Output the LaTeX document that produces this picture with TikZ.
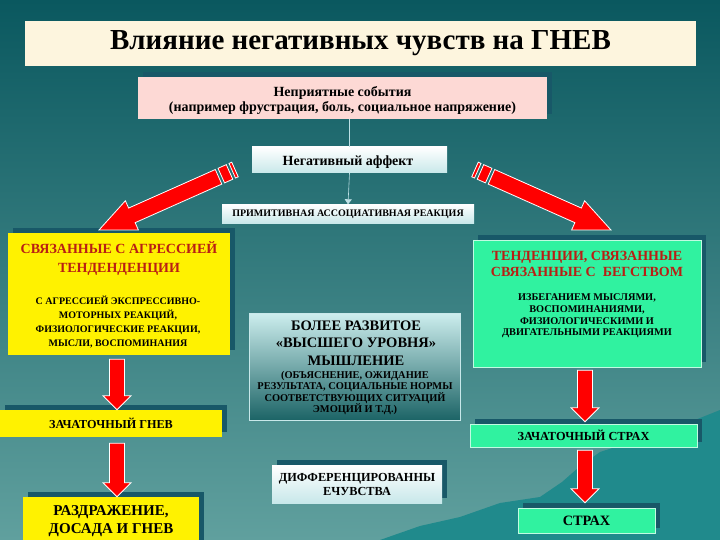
\documentclass[tikz,border=0pt]{standalone}
\usepackage{fontspec}
\setmainfont{Liberation Serif}
\usetikzlibrary{calc,shadows,arrows.meta}

\definecolor{bgtop}{RGB}{10,88,95}
\definecolor{bgbottom}{RGB}{96,160,158}
\definecolor{hillteal}{RGB}{32,138,140}
\definecolor{titlecream}{RGB}{253,245,222}
\definecolor{eventpink}{RGB}{253,217,213}
\definecolor{shadowteal}{RGB}{24,88,104}
\definecolor{lightcyan}{RGB}{200,232,234}
\definecolor{thinktop}{RGB}{205,238,238}
\definecolor{thinkbottom}{RGB}{28,100,102}
\definecolor{mint}{RGB}{48,242,160}
\definecolor{darkred}{RGB}{185,30,20}
\definecolor{linecyan}{RGB}{190,225,230}

% fat red arrow: shaft half width, head half width, head length, from, to
\newcommand{\fatarrow}[5]{%
  \coordinate (fa-hb) at ($(#5)!#3!(#4)$);
  \filldraw[fatarrow] ($(#4)!#1!90:(#5)$) -- ($(fa-hb)!#1!-90:(#4)$) -- ($(fa-hb)!#2!-90:(#4)$) -- (#5)
    -- ($(fa-hb)!#2!90:(#4)$) -- ($(fa-hb)!#1!90:(#4)$) -- ($(#4)!#1!-90:(#5)$) -- cycle;
}
% one stripe at the tail: half width, start, end, from, to
\newcommand{\arrowstripe}[5]{%
  \coordinate (st-a) at ($(#4)!#2!(#5)$);
  \coordinate (st-b) at ($(#4)!#3!(#5)$);
  \filldraw[fatarrow] ($(st-a)!#1!90:(#5)$) -- ($(st-b)!#1!90:(#5)$) -- ($(st-b)!#1!-90:(#5)$) -- ($(st-a)!#1!-90:(#5)$) -- cycle;
}

\begin{document}
\begin{tikzpicture}[x=1pt,y=-1pt,
    boxshadow/.style={general shadow={fill=shadowteal, shadow xshift=5pt, shadow yshift=5pt}},
    plainbox/.style={inner sep=0pt, align=center, font=\bfseries},
    titlebox/.style={plainbox, fill=titlecream, minimum width=671pt, minimum height=45pt, font=\bfseries\fontsize{29}{32}\selectfont},
    eventbox/.style={plainbox, boxshadow, fill=eventpink},
    lightbox/.style={plainbox, top color=white, bottom color=lightcyan},
    thinkbox/.style={plainbox, top color=thinktop, bottom color=thinkbottom, draw=lightcyan, line width=0.6pt},
    yellowbox/.style={plainbox, boxshadow, fill=yellow},
    greenbox/.style={plainbox, boxshadow, fill=mint, draw=white!70!mint, line width=0.6pt},
    redtext/.style={inner sep=0pt, align=center, text=darkred},
    blacktext/.style={inner sep=0pt, align=center},
    thinline/.style={draw=linecyan, line width=0.6pt},
    fatarrow/.style={fill=red, draw=white, line width=0.8pt, line join=miter}]
  \useasboundingbox (0,0) rectangle (720,540);

  % background
  \shade[top color=bgtop, bottom color=bgbottom] (0,0) rectangle (720,540);
  \fill[hillteal] (380,540) -- (420,526) -- (460,517) -- (500,503) -- (540,497) -- (562,482) -- (578,468)
    -- (600,452) -- (625,444) -- (650,432) -- (690,422) -- (720,410) -- (720,540) -- cycle;

  % title
  \node[titlebox] at (360.5,43.5) (title) {Влияние негативных чувств на ГНЕВ};

  % top of the chain
  \node[eventbox, minimum width=409pt, minimum height=42pt] at (342.5,98) (events) {};
  \node[blacktext, font=\bfseries\fontsize{14}{15}\selectfont] at (342.5,101) (events-text) {Неприятные события\\(например фрустрация, боль, социальное напряжение)};
  \node[lightbox, minimum width=195pt, minimum height=26pt] at (349.5,160) (affect) {};
  \node[blacktext, font=\bfseries\fontsize{14}{15}\selectfont] at (348,162.5) (affect-text) {Негативный аффект};
  \node[lightbox, minimum width=252pt, minimum height=19pt, font=\bfseries\fontsize{10}{11}\selectfont] at (348,214) (primitive) {ПРИМИТИВНАЯ АССОЦИАТИВНАЯ РЕАКЦИЯ};
  \draw[thinline] (events.south -| affect.north) -- (affect.north);
  \draw[thinline, -{Triangle[width=7pt,length=5pt]}] (affect.south) -- (primitive.north);

  % aggression side
  \node[yellowbox, minimum width=222pt, minimum height=122pt] at (119,294) (aggr) {};
  \node[redtext, font=\bfseries\fontsize{14}{19}\selectfont] at (119,259) (aggr-head) {СВЯЗАННЫЕ С АГРЕССИЕЙ\\ТЕНДЕНДЕНЦИИ};
  \node[blacktext, font=\bfseries\fontsize{10}{14}\selectfont] at (118,322) (aggr-text) {С АГРЕССИЕЙ ЭКСПРЕССИВНО-\\МОТОРНЫХ РЕАКЦИЙ,\\ФИЗИОЛОГИЧЕСКИЕ РЕАКЦИИ,\\МЫСЛИ, ВОСПОМИНАНИЯ};
  \node[yellowbox, minimum width=222pt, minimum height=27pt, font=\bfseries\fontsize{12.2}{13}\selectfont] at (111,423.5) (zg) {ЗАЧАТОЧНЫЙ ГНЕВ};
  \node[yellowbox, minimum width=176pt, minimum height=48pt, font=\bfseries\fontsize{15}{18}\selectfont] at (111,521) (rage) {РАЗДРАЖЕНИЕ,\\ДОСАДА И ГНЕВ};

  % thinking in the middle
  \node[thinkbox, minimum width=211pt, minimum height=107pt] at (354.5,366.5) (think) {};
  \node[blacktext, font=\bfseries\fontsize{14.5}{17.5}\selectfont] at (356,343) (think-head) {БОЛЕЕ РАЗВИТОЕ\\«ВЫСШЕГО УРОВНЯ»\\МЫШЛЕНИЕ};
  \node[blacktext, font=\bfseries\fontsize{10.4}{11.6}\selectfont] at (355,393) (think-text) {(ОБЪЯСНЕНИЕ, ОЖИДАНИЕ\\РЕЗУЛЬТАТА, СОЦИАЛЬНЫЕ НОРМЫ\\СООТВЕТСТВУЮЩИХ СИТУАЦИЙ\\ЭМОЦИЙ И Т.Д.)};
  \node[lightbox, boxshadow, minimum width=170pt, minimum height=38pt, font=\bfseries\fontsize{12.3}{14}\selectfont] at (357,484) (diff) {ДИФФЕРЕНЦИРОВАННЫ\\ЕЧУВСТВА};

  % flight side
  \node[greenbox, minimum width=228pt, minimum height=127pt] at (587,303.5) (flight) {};
  \node[redtext, font=\bfseries\fontsize{14}{16}\selectfont] at (587,263.5) (flight-head) {ТЕНДЕНЦИИ, СВЯЗАННЫЕ\\СВЯЗАННЫЕ С~~БЕГСТВОМ};
  \node[blacktext, font=\bfseries\fontsize{10.3}{11.7}\selectfont] at (587,316) (flight-text) {ИЗБЕГАНИЕМ МЫСЛЯМИ,\\ВОСПОМИНАНИЯМИ,\\ФИЗИОЛОГИЧЕСКИМИ И\\ДВИГАТЕЛЬНЫМИ РЕАКЦИЯМИ};
  \node[greenbox, minimum width=227pt, minimum height=23pt, font=\bfseries\fontsize{12.3}{13}\selectfont] at (583.5,435.5) (zs) {ЗАЧАТОЧНЫЙ СТРАХ};
  \node[greenbox, minimum width=137pt, minimum height=25pt, font=\bfseries\fontsize{14.3}{15}\selectfont] at (586.5,520.5) (fear) {СТРАХ};

  % big arrows from the affect
  \coordinate (la-tail) at (235,169.5);
  \coordinate (la-tip) at (99,230);
  \coordinate (la-start) at ($(la-tail)!18pt!(la-tip)$);
  \arrowstripe{8pt}{0pt}{3pt}{la-tail}{la-tip}
  \arrowstripe{8pt}{6pt}{15pt}{la-tail}{la-tip}
  \fatarrow{8pt}{16pt}{36pt}{la-start}{la-tip}

  \coordinate (ra-tail) at (475,169.5);
  \coordinate (ra-tip) at (611,230);
  \coordinate (ra-start) at ($(ra-tail)!18pt!(ra-tip)$);
  \arrowstripe{8pt}{0pt}{3pt}{ra-tail}{ra-tip}
  \arrowstripe{8pt}{6pt}{15pt}{ra-tail}{ra-tip}
  \fatarrow{8pt}{16pt}{36pt}{ra-start}{ra-tip}

  % down arrows
  \coordinate (a1-from) at ($(aggr.south)+(-2,4)$);
  \coordinate (a1-to) at (a1-from |- zg.north);
  \fatarrow{7.5pt}{14pt}{14pt}{a1-from}{a1-to}
  \coordinate (a2-from) at ($(a1-from |- zg.south)+(0,6)$);
  \coordinate (a2-to) at (a1-from |- rage.north);
  \fatarrow{7.5pt}{14pt}{14pt}{a2-from}{a2-to}

  \coordinate (a3-from) at ($(flight.south)+(-2,3)$);
  \coordinate (a3-to) at ($(a3-from |- zs.north)+(0,-2)$);
  \fatarrow{7.5pt}{14pt}{14pt}{a3-from}{a3-to}
  \coordinate (a4-from) at ($(a3-from |- zs.south)+(0,3)$);
  \coordinate (a4-to) at ($(a3-from |- fear.north)+(0,-5)$);
  \fatarrow{7.5pt}{14pt}{14pt}{a4-from}{a4-to}
\end{tikzpicture}
\end{document}
